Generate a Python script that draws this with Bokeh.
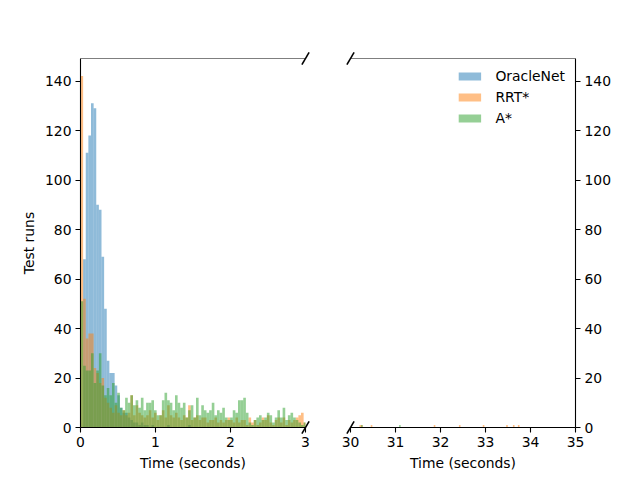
import numpy as np
from bokeh.plotting import figure
from bokeh.layouts import row
from bokeh.models import Range1d, FixedTicker, Span, Legend, LegendItem
from bokeh.embed import file_html
from bokeh.resources import INLINE

# ---------------- data ----------------
BIN_W = 0.035  # seconds per histogram bin

series_names = ["OracleNet", "RRT*", "A*"]
series_colors = ["#1f77b4", "#ff7f0e", "#2ca02c"]

# counts per bin, bins start at 0 s with width BIN_W
oracle_counts = [
    0, 68, 111, 118, 131, 129, 90, 88, 69, 48,
    27, 22, 22, 17, 13, 8, 6, 6, 4, 3,
    2, 2, 1, 2, 1, 1, 0, 1, 0, 0,
    0, 0, 0, 1, 0, 0, 0, 0, 0, 0,
    0, 1, 0, 0, 0, 0, 0, 0, 0, 0,
    0, 0, 0, 0, 0, 0, 0, 0, 0, 0,
    0, 0, 0, 0, 0, 0, 0, 0, 0, 0,
    0, 0, 0, 0, 0, 0, 0, 0, 0, 0,
    0, 0, 0, 0, 0, 0,
]
rrt_counts = [
    142, 52, 36, 38, 38, 24, 22, 18, 20, 12,
    10, 8, 6, 9, 6, 5, 7, 5, 6, 13,
    5, 9, 6, 5, 4, 5, 7, 4, 6, 3,
    5, 7, 4, 9, 5, 4, 6, 4, 3, 5,
    4, 9, 3, 4, 5, 3, 4, 4, 2, 3,
    3, 4, 2, 3, 2, 3, 4, 3, 2, 4,
    2, 3, 3, 1, 4, 2, 3, 1, 2, 4,
    3, 5, 2, 1, 3, 4, 2, 4, 1, 3,
    2, 3, 4, 5, 6, 2,
]
astar_counts = [
    51, 25, 23, 23, 30, 18, 23, 30, 17, 13,
    16, 13, 18, 10, 14, 8, 7, 12, 10, 13,
    9, 11, 8, 12, 7, 10, 10, 11, 7, 5,
    5, 11, 14, 11, 10, 7, 13, 10, 8, 10,
    4, 7, 9, 4, 12, 5, 9, 7, 6, 7,
    10, 5, 7, 6, 8, 4, 3, 4, 7, 6,
    11, 11, 12, 6, 2, 1, 3, 4, 5, 3,
    4, 6, 5, 2, 4, 7, 4, 8, 3, 5,
    6, 4, 3, 2, 1, 2,
]

# slow tail runs (bin left edges in seconds, counts)
rrt_tail_left = [30.20, 30.235, 30.45, 31.85, 32.41, 32.94, 33.46, 33.61, 33.72]
rrt_tail_counts = [1, 1, 1, 1, 1, 1, 1, 1, 1]
astar_tail_left = [30.235, 31.08]
astar_tail_counts = [1, 1]

left_xticks = [0, 1, 2, 3]
right_xticks = [30, 31, 32, 33, 34, 35]
yticks = [0, 20, 40, 60, 80, 100, 120, 140]
x_label = "Time (seconds)"
y_label = "Test runs"

# ---------------- build ----------------
main_left = np.arange(len(oracle_counts)) * BIN_W
hists = [
    (list(main_left), oracle_counts),
    (list(main_left) + rrt_tail_left, rrt_counts + rrt_tail_counts),
    (list(main_left) + astar_tail_left, astar_counts + astar_tail_counts),
]

YMAX = max(max(oracle_counts), max(rrt_counts), max(astar_counts)) * 1.05
FONT = "DejaVu Sans"
FS = "13.9px"


def style_axis(ax):
    ax.axis_line_color = "black"
    ax.axis_line_width = 1.1
    ax.major_tick_line_color = "black"
    ax.major_tick_line_width = 1.1
    ax.major_tick_out = 5
    ax.major_tick_in = 0
    ax.minor_tick_line_color = None
    ax.major_label_text_font = FONT
    ax.major_label_text_font_size = FS
    ax.major_label_text_color = "black"
    ax.major_label_standoff = 4
    ax.axis_label_text_font = FONT
    ax.axis_label_text_font_size = FS
    ax.axis_label_text_font_style = "normal"
    ax.axis_label_text_color = "black"
    ax.axis_label_standoff = 5


def make_fig(xr, xticks, width, yloc, bl, br):
    p = figure(width=width, height=480, x_range=Range1d(*xr), y_range=Range1d(0, YMAX),
               output_backend="svg", toolbar_location=None, y_axis_location=yloc,
               min_border_left=bl, min_border_right=br, min_border_top=58, min_border_bottom=53)
    p.outline_line_color = None
    p.xgrid.grid_line_color = None
    p.ygrid.grid_line_color = None
    p.background_fill_color = "white"
    p.border_fill_color = "white"
    renderers = []
    for (lefts, counts), name, col in zip(hists, series_names, series_colors):
        lefts = np.array(lefts)
        r = p.quad(left=lefts, right=lefts + BIN_W, bottom=0, top=counts,
                   fill_color=col, fill_alpha=0.5, line_color=None)
        renderers.append((name, r))
    p.xaxis.ticker = FixedTicker(ticks=xticks)
    p.yaxis.ticker = FixedTicker(ticks=yticks)
    p.xaxis.axis_label = x_label
    style_axis(p.xaxis[0])
    style_axis(p.yaxis[0])
    p.add_layout(Span(location=YMAX, dimension="width", line_color="black", line_width=1.1))
    return p, renderers


# frames: left 80..305 px, right 350..575 px
left, _ = make_fig((0, 3), left_xticks, 311, "left", 80, 6)
left.yaxis.axis_label = y_label
right, rends = make_fig((30, 35), right_xticks, 329, "right", 39, 65)

# axis-break marks: short diagonal strokes drawn on the overlay level (unclipped)
DY = YMAX * 0.0165
for p, x0, span in ((left, 3, 3), (right, 30, 5)):
    dx = span * 0.016
    p.segment(x0=[x0 - dx, x0 - dx], y0=[-DY, YMAX - DY],
              x1=[x0 + dx, x0 + dx], y1=[DY, YMAX + DY],
              line_color="black", line_width=1.6, level="overlay")

legend = Legend(items=[LegendItem(label=n, renderers=[r]) for n, r in rends],
                location="top_right", border_line_color=None, background_fill_alpha=0,
                glyph_width=28, glyph_height=10, label_standoff=12, label_height=16,
                spacing=5, padding=6, margin=10,
                label_text_font=FONT, label_text_font_size=FS, label_text_color="black")
right.add_layout(legend)

layout = row(left, right, spacing=0)
open("out.html", "w").write(file_html(layout, INLINE))
